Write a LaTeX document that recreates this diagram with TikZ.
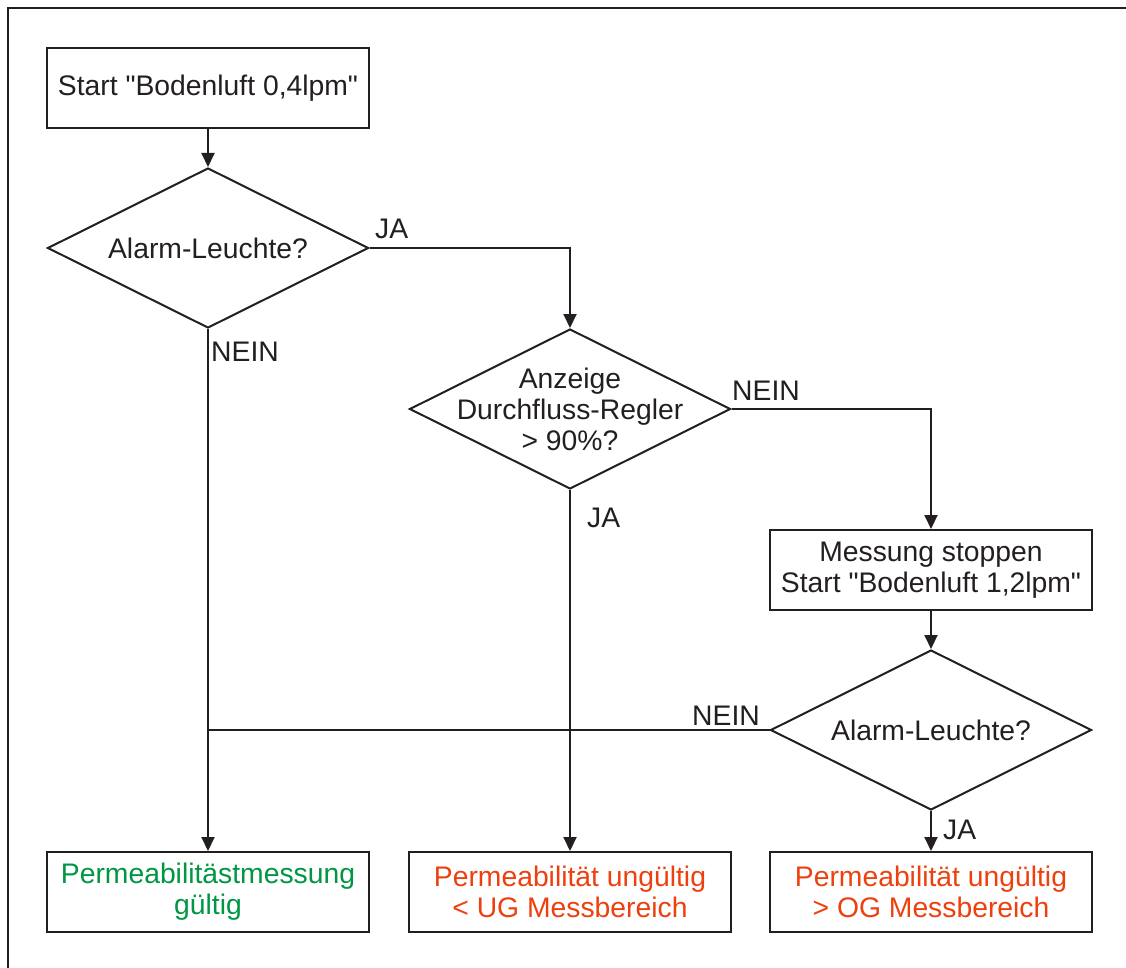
\documentclass[tikz,border=0pt]{standalone}
\usepackage{fontspec}
\setmainfont{Liberation Sans}
\usetikzlibrary{shapes.geometric,arrows.meta}
\definecolor{linec}{RGB}{35,31,32}
\definecolor{okgreen}{RGB}{0,150,68}
\definecolor{badred}{RGB}{238,64,14}
\newcommand{\sq}{\XeTeXglyph\numexpr\XeTeXcharglyph"22\relax\relax}
\tikzset{
  every node/.style={font=\fontsize{28.3}{31}\selectfont, text=linec},
  box/.style={draw=linec, line width=2pt, rectangle, minimum width=322pt, minimum height=80pt, inner sep=0pt, align=center},
  dia/.style={draw=linec, line width=2pt, diamond, minimum width=321pt, minimum height=160pt, inner sep=0pt},
  conn/.style={draw=linec, line width=2pt},
  arr/.style={conn, -{Triangle[length=14pt,width=13pt]}},
  lbl/.style={inner sep=0pt}
}
\begin{document}
\begin{tikzpicture}[x=1pt,y=-1pt]
\useasboundingbox (0,0) rectangle (1126,968);
\fill[white] (0,0) rectangle (1126,968);
\coordinate (f1) at (8,968);
\coordinate (f2) at (8,8);
\coordinate (f3) at (1126,8);
\draw[conn] (f1) -- (f2) -- (f3);

\node[box] (b1) at (208,88) {Start \sq Bodenluft 0,4lpm\sq};
\node[dia] (d1) at (208,248) {};
\node at (d1) {Alarm-Leuchte?};
\node[dia] (d2) at (570,409) {};
\node[align=center] at (d2) {Anzeige\\Durchfluss-Regler\\> 90\%?};
\node[box] (b2) at (931,570) {Messung stoppen\\Start \sq Bodenluft 1,2lpm\sq};
\node[dia] (d3) at (931,730) {};
\node at (d3) {Alarm-Leuchte?};

\node[box, text=okgreen] (r1) at (208,892) {Permeabilitästmessung\\gültig};
\node[box, text=badred] (r2) at (570,892) {Permeabilität ungültig\\< UG Messbereich};
\node[box, text=badred] (r3) at (931,892) {Permeabilität ungültig\\> OG Messbereich};

\draw[arr] (b1) -- (d1);
\draw[arr] (d1.east) -| (d2.north);
\draw[arr] (d2.east) -| (b2.north);
\draw[arr] (b2) -- (d3);
\draw[arr] (d1.south) -- (r1.north);
\draw[conn] (d3.west) -- (d1.south |- d3.west);
\draw[arr] (d2.south) -- (r2.north);
\draw[arr] (d3.south) -- (r3.north);

\node[lbl, anchor=west] (l1) at (375,229) {JA};
\node[lbl, anchor=west] (l2) at (211,352) {NEIN};
\node[lbl, anchor=west] (l3) at (732,391) {NEIN};
\node[lbl, anchor=west] (l4) at (587,518) {JA};
\node[lbl, anchor=east] (l5) at (760,716) {NEIN};
\node[lbl, anchor=west] (l6) at (943,830) {JA};
\end{tikzpicture}
\end{document}
